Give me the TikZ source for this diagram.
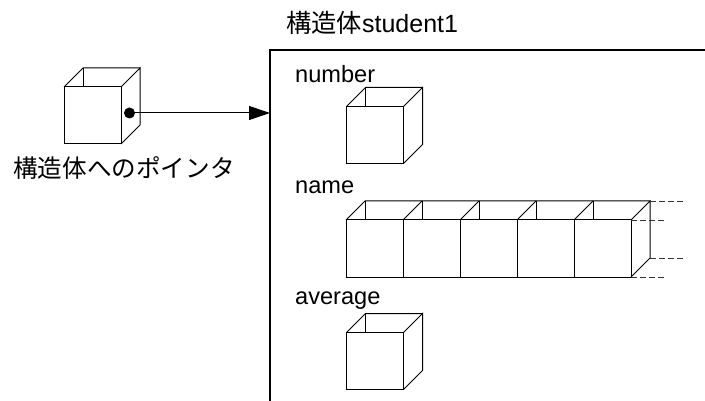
\documentclass[tikz,border=0pt]{standalone}
\usepackage{fontspec}
\setmainfont{Liberation Sans}
\newfontfamily\cjk{Noto Sans CJK JP}
\usetikzlibrary{arrows.meta}
\begin{document}
\begin{tikzpicture}[x=1pt,y=-1pt,
  cubeline/.style={draw=black, line width=1pt, line join=miter},
  frameline/.style={draw=black, line width=1.3pt},
  dashline/.style={draw=black!80, line width=0.9pt, dash pattern=on 6pt off 3pt},
  lbl/.style={anchor=base west, inner sep=0pt, font=\fontsize{23.6}{26}\selectfont},
  cjklbl/.style={inner sep=0pt, font=\cjk\fontsize{24.6}{28}\selectfont},
  pics/opencell/.style={code={
    \draw[cubeline] (0,0) rectangle (57,57);
    \draw[cubeline] (0,0) -- (19,-19) -- (76,-19);
    \draw[cubeline] (19,-19) -- (19,0);
  }},
  pics/rightface/.style={code={
    \draw[cubeline] (57,0) -- (76,-19) -- (76,38) -- (57,57);
  }},
  pics/cube/.style={code={
    \pic {opencell};
    \pic {rightface};
  }}
]
\useasboundingbox (0,0) rectangle (705,401);

% structure frame (open on right and bottom)
\coordinate (frameTL) at (270,50);
\coordinate (frameTR) at (705,50);
\coordinate (frameBL) at (270,401);
\draw[frameline] (frameBL) -- (frameTL) -- (frameTR);
\node[anchor=base west, inner sep=0pt, font=\fontsize{25}{28}\selectfont] (title) at (286,32.5) {{\cjk\fontsize{25.3}{28}\selectfont 構造体}student1};

% pointer cube
\pic at (64,87) {cube};
\node[circle, fill=black, inner sep=0pt, minimum size=11pt] (dot) at (129.5,113) {};
\coordinate (boxin) at (270,113);
\draw[line width=1pt, -{Triangle[length=21pt,width=14pt]}] (dot.center) -- (boxin);
\node[cjklbl, anchor=base] (plabel) at (124,177.5) {構造体へのポインタ};

% number
\node[lbl] (lnumber) at (295,82.5) {number};
\pic at (346.5,106.5) {cube};

% name
\node[lbl] (lname) at (295,193.5) {name};
\foreach \i in {0,...,4} {
  \pic at ({346+57*\i},220) {opencell};
}
\pic at (574,220) {rightface};
\coordinate (n1a) at (650,201);   \coordinate (n1b) at (685,201);
\coordinate (n2a) at (631,220);   \coordinate (n2b) at (667,220);
\coordinate (n3a) at (650,258);   \coordinate (n3b) at (685,258);
\coordinate (n4a) at (631,277);   \coordinate (n4b) at (667,277);
\draw[dashline] (n1a) -- (n1b);
\draw[dashline] (n2a) -- (n2b);
\draw[dashline] (n3a) -- (n3b);
\draw[dashline] (n4a) -- (n4b);

% average
\node[lbl] (laverage) at (295,304) {average};
\pic at (346.5,332.5) {cube};
\end{tikzpicture}
\end{document}
